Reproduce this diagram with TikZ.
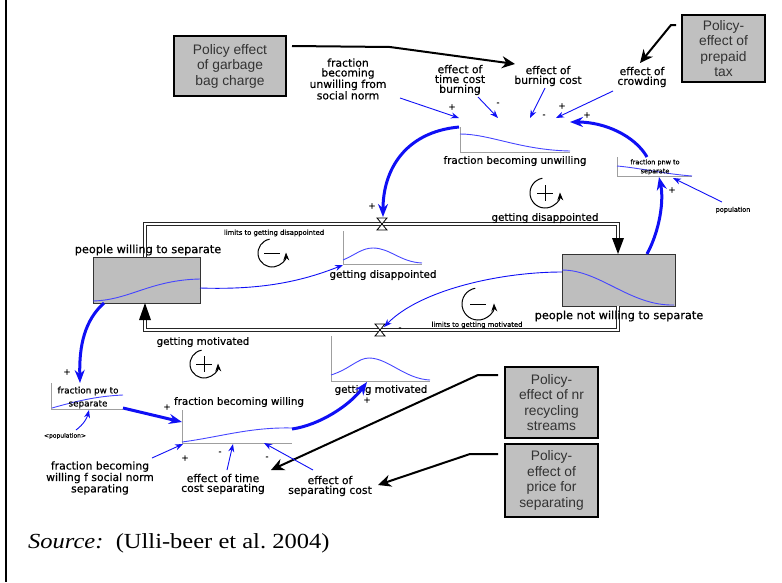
\documentclass[tikz,border=0pt]{standalone}
\usepackage{fontspec}
\usepackage{graphicx}
\setmainfont{Liberation Serif}
\newfontfamily\cfont[FakeBold=0.5]{DejaVu Sans}
\newfontfamily\afont{Liberation Sans}
\usetikzlibrary{arrows.meta}
\definecolor{myblue}{RGB}{15,15,245}
\definecolor{lblue}{RGB}{70,70,255}
\definecolor{boxgray}{RGB}{192,192,192}
\definecolor{stockgray}{RGB}{190,190,190}
\newcommand{\loopmark}[3]{%
  \draw[line width=1pt,-{Stealth[length=8pt,width=6pt]}] (#1) ++(-100:#2) arc (-100:-362:#2);
  \ifx#3+\draw[line width=1pt] (#1) ++(-8,0) -- ++(16,0); \draw[line width=1pt] (#1) ++(0,-8) -- ++(0,16);
  \else\draw[line width=1pt] (#1) ++(-8,0) -- ++(16,0);\fi}
\begin{document}
\begin{tikzpicture}[x=1pt,y=-1pt,
  policy/.style={draw=black, line width=1.8pt, fill=boxgray, font=\afont\fontsize{13.8}{15.5}\selectfont, text=black!80, align=center, inner sep=0pt},
  lbl/.style={font=\cfont\fontsize{10.3}{12}\selectfont, align=center, inner sep=0pt},
  plbl/.style={font=\cfont\fontsize{11.3}{12}\selectfont, align=center, inner sep=0pt},
  mlbl/.style={font=\cfont\fontsize{10.8}{9.8}\selectfont, align=center, inner sep=0pt},
  tiny/.style={font=\cfont\fontsize{6.5}{8}\selectfont, align=center, inner sep=0pt},
  sgn/.style={font=\cfont\fontsize{8}{8}\selectfont, inner sep=0pt},
  thinar/.style={myblue, line width=0.9pt, -{Stealth[length=8pt,width=6pt]}},
  thickar/.style={myblue, line width=3pt, -{Stealth[length=13pt,width=10pt]}},
  blkar/.style={black, line width=2pt, -{Stealth[length=13pt,width=12pt]}},
  axis/.style={gray!75, line width=0.9pt},
  gcurve/.style={lblue, line width=0.9pt},
  stock/.style={draw=gray!40!black, fill=stockgray, line width=1pt, inner sep=0pt},
  pipe/.style={draw=gray!30!black, line width=0.9pt, double=white, double distance=2.2pt},
  valve/.style={draw=black, fill=white, line width=0.8pt}]
\useasboundingbox (0,0) rectangle (782,582);
\draw[line width=2pt] (6,0) -- (6,582);

% policy boxes
\node[policy, minimum width=112pt, minimum height=60pt] (pg) at (230,66) {Policy effect\\of garbage\\bag charge};
\node[policy, minimum width=83pt, minimum height=67pt] (pp) at (723.5,48.5) {Policy-\\effect of\\prepaid\\tax};
\node[policy, minimum width=93pt, minimum height=71pt] (pr) at (551.5,402.5) {Policy-\\effect of nr\\recycling\\streams};
\node[policy, minimum width=93pt, minimum height=73pt] (pc) at (551.5,480.5) {Policy-\\effect of\\price for\\separating};

% stocks
\node[stock, minimum width=107pt, minimum height=46pt] (pw) at (146.5,280) {};
\node[stock, minimum width=113pt, minimum height=52pt] (pnw) at (618.5,280) {};
\draw[gcurve] (93,301) .. controls (130,300) and (150,280) .. (200,279);
\draw[gcurve] (562,270) .. controls (600,270) and (630,306) .. (674,305);

% pipes
\draw[pipe] (145,257) -- (145,224) -- (618,224) -- (618,239);
\fill (612,238) -- (624,238) -- (618,254) -- cycle;
\draw[pipe] (618,306) -- (618,330) -- (145,330) -- (145,319);
\fill (139,320) -- (151,320) -- (145,303) -- cycle;
\coordinate (v1) at (382,224);
\coordinate (v2) at (380,330);
\draw[valve] (377,218) -- (387,218) -- (377,230) -- (387,230) -- cycle;
\draw[valve] (375,324) -- (385,324) -- (375,336) -- (385,336) -- cycle;

% graphs
\draw[axis] (460,127) -- (460,152) -- (570,152);
\draw[gcurve] (460,134) .. controls (490,134) and (520,150) .. (570,151);
\draw[axis] (343,231) -- (343,264) -- (422,264);
\draw[gcurve] (343,260) .. controls (355,255) and (362,248) .. (373,248) .. controls (390,248) and (400,262) .. (422,263);
\draw[axis] (331,336) -- (331,381) -- (430,381);
\draw[gcurve] (331,375) .. controls (350,369) and (358,358) .. (369,358) .. controls (388,358) and (405,379) .. (430,380);
\draw[axis] (182,410) -- (182,443) -- (292,443);
\draw[gcurve] (182,442) .. controls (220,437) and (250,427) .. (292,428);
\draw[axis] (51,383) -- (51,409) -- (123,409);
\draw[gcurve] (52,408) .. controls (80,400) and (100,396) .. (123,395);
\draw[axis] (617,157) -- (617,176) -- (692,176);
\draw[gcurve] (617,166) .. controls (640,168) and (665,174) .. (692,176);

% labels
\node[mlbl] (fus) at (348,79) {fraction\\becoming\\unwilling from\\social norm};
\node[mlbl] (etb) at (460,80) {effect of\\time cost\\burning};
\node[mlbl] (ebc) at (548,76) {effect of\\burning cost};
\node[mlbl] (ecr) at (642,77) {effect of\\crowding};
\node[lbl] (lfbu) at (515,161) {fraction becoming unwilling};
\node[tiny, font=\cfont\fontsize{6.5}{9}\selectfont] (lfpnw) at (655,167) {fraction pnw to\\separate};
\node[tiny] (pop) at (733,210) {population};
\node[lbl] (lgd1) at (545,218) {getting disappointed};
\node[tiny, font=\cfont\fontsize{6.8}{8}\selectfont] (llgd) at (274,233) {limits to getting disappointed};
\node[plbl] (lpw) at (148,250) {people willing to separate};
\node[lbl] (lgd2) at (383,275) {getting disappointed};
\node[plbl] (lpnw) at (619,316) {people not willing to separate};
\node[tiny, font=\cfont\fontsize{6.8}{8}\selectfont] (llgm) at (477,325) {limits to getting motivated};
\node[lbl] (lgm1) at (203,342) {getting motivated};
\node[lbl] (lgm2) at (381,390) {getting motivated};
\node[tiny, font=\cfont\fontsize{8.8}{13}\selectfont] (lfpw) at (88,397.5) {fraction pw to\\separate};
\node[tiny, font=\cfont\fontsize{6}{8}\selectfont] (popb) at (65,436) {<population>};
\node[lbl] (lfbw) at (239,402) {fraction becoming willing};
\node[mlbl] (fws) at (100,478) {fraction becoming\\willing f social norm\\separating};
\node[mlbl] (ets) at (223,484) {effect of time\\cost separating};
\node[mlbl] (esc) at (330,486) {effect of\\separating cost};
\node[anchor=west, inner sep=0pt, font=\fontsize{21.5}{23}\selectfont] (src) at (28,543) {\scalebox{1.14}[1]{\textit{Source:}\ \ (Ulli-beer et al.\ 2004)}};

% loops
\loopmark{545,193}{15}{+}
\loopmark{272,253}{14}{-}
\loopmark{204,364}{14}{+}
\loopmark{478,304}{16}{-}

% black policy arrows
\coordinate (pgA) at (292,46);
\coordinate (pgB) at (390,47);
\coordinate (pgT) at (515,64);
\draw[blkar] (pgA) -- (pgB) -- (pgT);
\coordinate (ppA) at (676,25);
\coordinate (ppB) at (671,25);
\coordinate (ppT) at (640,63);
\draw[blkar] (ppA) -- (ppB) -- (ppT);
\coordinate (prA) at (498,375);
\coordinate (prB) at (478,375);
\coordinate (prT) at (271,470);
\draw[blkar] (prA) -- (prB) -- (prT);
\coordinate (pcA) at (498,454);
\coordinate (pcB) at (470,454);
\coordinate (pcT) at (378,485);
\draw[blkar] (pcA) -- (pcB) -- (pcT);

% thin blue links
\coordinate (fbuIn) at (459,118);
\draw[thinar] (400,98) -- (fbuIn);
\draw[thinar] (478,97) -- (498,118);
\draw[thinar] (545,88) -- (530,118);
\draw[thinar] (613,91) -- (556,118);
\draw[thinar] (722,202) -- (673,178);
\draw[thinar] (76,430) .. controls (84,424) and (87,418) .. (89,410);
\draw[thinar] (152,458) -- (183,444);
\draw[thinar] (227,470) -- (233,444);
\draw[thinar] (313,470) -- (264,443);
\draw[thinar] (200,288) .. controls (260,290) and (300,282) .. (343,265);
\draw[thinar] (562,272) .. controls (500,272) and (420,290) .. (384,327);

% thick blue links
\draw[thickar] (459,127) .. controls (405,132) and (383,170) .. (383,217);
\draw[thickar] (647,157) .. controls (635,136) and (605,122) .. (570,122);
\draw[thickar] (647,254) .. controls (660,230) and (664,200) .. (659,177);
\draw[thickar] (104,303) .. controls (85,320) and (79,345) .. (80,383);
\draw[thickar] (123,408) -- (182,422);
\draw[thickar] (292,429) .. controls (320,425) and (350,405) .. (367,382);

% signs
\node[sgn] at (452,107) {+};
\node[sgn] at (498,104) {-};
\node[sgn] at (544,116) {-};
\node[sgn] at (562,106) {+};
\node[sgn] at (587,115) {+};
\node[sgn] at (372,206) {+};
\node[sgn] at (672,190) {+};
\node[sgn] at (400,329) {-};
\node[sgn] at (367,400) {+};
\node[sgn] at (167,407) {+};
\node[sgn] at (67,372) {+};
\node[sgn] at (185,458) {+};
\node[sgn] at (220,453) {-};
\node[sgn] at (267,458) {-};
\end{tikzpicture}
\end{document}
